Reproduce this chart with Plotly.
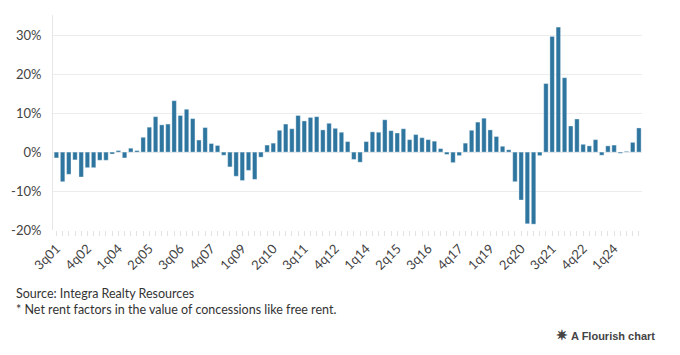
import plotly.graph_objects as go

quarters = [f"{q}q{y:02d}" for y in range(1, 26) for q in (1, 2, 3, 4)]
quarters = quarters[quarters.index("3q01"):quarters.index("1q25") + 1]

values = [
    -1.5, -7.6, -5.7, -2.0, -6.4, -4.0, -4.0, -2.1, -2.1, -0.5,
    0.4, -1.5, 1.0, 0.4, 3.8, 6.4, 9.1, 7.0, 7.2, 13.2,
    9.4, 11.0, 8.6, 3.1, 6.3, 2.2, 1.7, -0.8, -3.8, -6.2,
    -7.3, -4.7, -7.0, -1.3, 1.8, 2.3, 5.6, 7.2, 6.0, 9.4,
    8.0, 8.9, 9.1, 5.7, 7.4, 6.1, 5.1, 2.7, -1.9, -2.6,
    2.7, 5.2, 5.1, 8.3, 5.5, 4.9, 6.0, 3.2, 4.5, 3.7,
    3.2, 2.8, 0.9, -0.6, -2.7, -0.9, 2.3, 5.6, 7.7, 8.7,
    5.7, 4.0, 1.5, 0.6, -7.6, -12.3, -18.4, -18.5, -0.9, 17.6,
    29.7, 32.1, 19.1, 6.7, 8.5, 2.0, 1.6, 3.2, -0.8, 1.6,
    1.8, -0.3, 0.2, 2.5, 6.2,
]

tick_labels = ["3q01", "4q02", "1q04", "2q05", "3q06", "4q07", "1q09", "2q10",
               "3q11", "4q12", "1q14", "2q15", "3q16", "4q17", "1q19", "2q20",
               "3q21", "4q22", "1q24"]
y_ticks = [-20, -10, 0, 10, 20, 30]
y_tick_labels = ["-20%", "-10%", "0%", "10%", "20%", "30%"]

source_text = "Source: Integra Realty Resources"
note_text = "* Net rent factors in the value of concessions like free rent."
credit_text = "A Flourish chart"

x_idx = list(range(len(quarters)))
tick_pos = [quarters.index(t) for t in tick_labels]

FONT = "Lato, 'Source Sans Pro', 'Noto Sans', sans-serif"
OFF = 8  # page body margin
W, H = 680, 355
L, T = 53 - OFF, 15 - OFF
PW, PH = 589, 215
R, B = W - L - PW, H - T - PH

def px(x):
    return (x - OFF - L) / PW

def py(y):
    return (T + PH - (y - OFF)) / PH

fig = go.Figure(go.Bar(
    x=x_idx, y=values,
    marker=dict(color="#2e76a0", line=dict(color="rgba(255,255,255,0.6)", width=0.6)),
    customdata=quarters,
    hovertemplate="%{customdata}: %{y}%<extra></extra>",
))

fig.update_layout(
    width=W, height=H,
    margin=dict(l=L, r=R, t=T, b=B, autoexpand=False),
    plot_bgcolor="white", paper_bgcolor="white",
    bargap=0.28,
    showlegend=False,
    font=dict(family=FONT, color="#333333", size=13),
)
fig.update_xaxes(
    range=[-0.55, len(quarters) - 0.5],
    tickmode="array", tickvals=tick_pos, ticktext=tick_labels,
    tickangle=-45, tickfont=dict(size=13, color="#444444"),
    ticks="outside", ticklen=5, tickcolor="#e2e2e2",
    minor=dict(dtick=1, tick0=0, ticks="outside", ticklen=5, tickcolor="#e2e2e2", showgrid=False),
    showgrid=False, showline=False, zeroline=False, automargin=False,
)
fig.update_yaxes(
    range=[-20, 35.2],
    tickmode="array", tickvals=y_ticks, ticktext=y_tick_labels,
    tickfont=dict(size=13, color="#444444"),
    showgrid=True, gridcolor="#ececec", gridwidth=1,
    zeroline=False, showline=True, linecolor="#e6e6e6", linewidth=1,
    ticks="", ticklabelstandoff=8, automargin=False,
)

fig.add_annotation(text=source_text, xref="paper", yref="paper",
                   x=px(14), y=py(293), xanchor="left", yanchor="middle",
                   showarrow=False, font=dict(size=12.5, color="#333333", family=FONT))
fig.add_annotation(text=note_text, xref="paper", yref="paper",
                   x=px(14), y=py(309), xanchor="left", yanchor="middle",
                   showarrow=False, font=dict(size=12.5, color="#333333", family=FONT))
fig.add_annotation(text="<span style='font-size:14px'><b>✷</b></span> <b>" + credit_text + "</b>",
                   xref="paper", yref="paper",
                   x=px(657), y=py(335), xanchor="right", yanchor="middle",
                   showarrow=False, font=dict(size=11, color="#444444", family="'Liberation Sans', Arial, sans-serif"))

fig.write_html("out.html")
